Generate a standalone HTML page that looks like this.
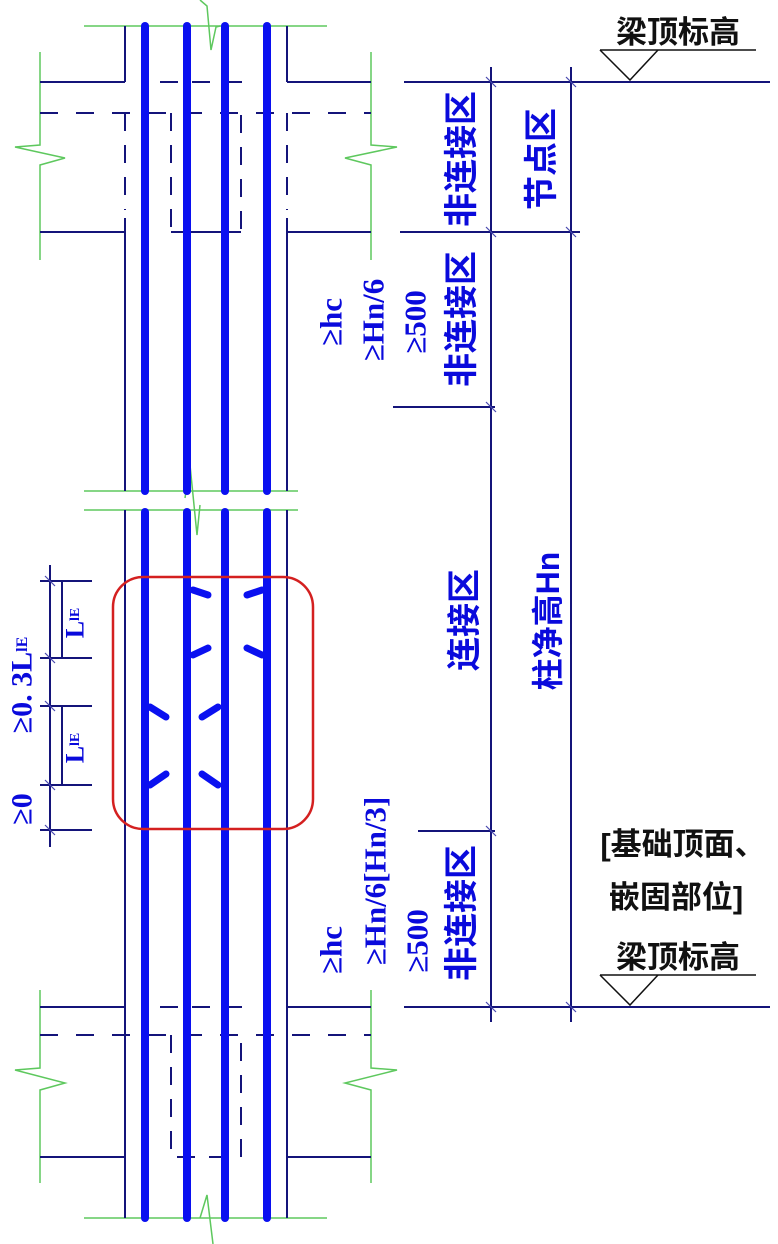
<!DOCTYPE html>
<html><head><meta charset="utf-8"><style>
html,body{margin:0;padding:0;background:#fff;}
svg{display:block;}
.b{font-family:"Liberation Sans","Noto Sans CJK SC",sans-serif;font-weight:bold;fill:#0a0adc;}
.s{font-family:"Liberation Serif","Noto Serif CJK SC",serif;font-weight:bold;fill:#0a0adc;}
.k{font-family:"Liberation Sans","Noto Sans CJK SC",sans-serif;font-weight:bold;fill:#111;}
</style></head><body>
<svg width="778" height="1244" viewBox="0 0 778 1244" xmlns="http://www.w3.org/2000/svg">
<rect width="778" height="1244" fill="#fff"/>
<g stroke="#5ec85e" stroke-width="1.5" fill="none">
<line x1="84" y1="26" x2="327" y2="26"/>
<polyline points="200,0 207,6 211,50 216,27 220,26"/>
<polyline points="40,52 40,145 15,147 65,158 40,165 40,260"/>
<polyline points="371,52 371,145 397,147 345,158 371,165 371,260"/>
<line x1="84" y1="491" x2="298" y2="491"/>
<line x1="84" y1="510" x2="298" y2="510"/>
<polyline points="185,498 190,465 197,535 200,505"/>
<line x1="84" y1="1218" x2="327" y2="1218"/>
<polyline points="200,1218 207,1195 213,1244"/>
<polyline points="40,990 40,1068 15,1070 65,1083 40,1090 40,1183"/>
<polyline points="371,990 371,1068 397,1070 345,1083 371,1090 371,1183"/>
</g>
<g stroke="#14147a" stroke-width="2" fill="none">
<line x1="125" y1="26" x2="125" y2="82"/><line x1="287" y1="26" x2="287" y2="82"/>
<line x1="40" y1="82" x2="125" y2="82"/><line x1="287" y1="82" x2="371" y2="82"/>
<line x1="160" y1="82" x2="252" y2="82" stroke-dasharray="18,14"/>
<line x1="40" y1="113" x2="371" y2="113" stroke-dasharray="18,18"/>
<polyline points="171,113 171,232 241,232 241,113" stroke-dasharray="18,14"/>
<line x1="125" y1="113" x2="125" y2="210" stroke-dasharray="18,14"/>
<line x1="287" y1="113" x2="287" y2="210" stroke-dasharray="18,14"/>
<line x1="125" y1="218" x2="125" y2="491"/><line x1="287" y1="218" x2="287" y2="491"/>
<line x1="40" y1="232" x2="125" y2="232"/><line x1="287" y1="232" x2="371" y2="232"/>
<line x1="171" y1="232" x2="241" y2="232"/>
<line x1="125" y1="510" x2="125" y2="1218"/><line x1="287" y1="510" x2="287" y2="1218"/>
<line x1="40" y1="1007" x2="125" y2="1007"/><line x1="287" y1="1007" x2="371" y2="1007"/>
<line x1="160" y1="1007" x2="252" y2="1007" stroke-dasharray="18,14"/>
<line x1="40" y1="1035" x2="371" y2="1035" stroke-dasharray="18,18"/>
<polyline points="171,1035 171,1157 241,1157 241,1035" stroke-dasharray="18,14"/>
<line x1="40" y1="1157" x2="125" y2="1157"/><line x1="287" y1="1157" x2="371" y2="1157"/>
<line x1="50" y1="565" x2="50" y2="847"/>
<line x1="40" y1="581" x2="92" y2="581"/><line x1="40" y1="658" x2="92" y2="658"/>
<line x1="40" y1="706" x2="92" y2="706"/><line x1="40" y1="785" x2="92" y2="785"/>
<line x1="40" y1="830" x2="92" y2="830"/>
<line x1="62" y1="581" x2="62" y2="658"/><line x1="62" y1="706" x2="62" y2="785"/>
<line x1="404" y1="82" x2="770" y2="82"/>
<line x1="400" y1="232" x2="580" y2="232"/>
<line x1="393" y1="407" x2="495" y2="407"/>
<line x1="418" y1="831" x2="495" y2="831"/>
<line x1="404" y1="1007" x2="770" y2="1007"/>
<line x1="491" y1="67" x2="491" y2="1022"/>
<line x1="571" y1="67" x2="571" y2="1022"/>
</g>
<g stroke="#4a4ab0" stroke-width="1.2">
<line x1="486" y1="77" x2="496" y2="87"/><line x1="566" y1="77" x2="576" y2="87"/>
<line x1="486" y1="227" x2="496" y2="237"/><line x1="566" y1="227" x2="576" y2="237"/>
<line x1="486" y1="402" x2="496" y2="412"/><line x1="486" y1="826" x2="496" y2="836"/>
<line x1="486" y1="1002" x2="496" y2="1012"/><line x1="566" y1="1002" x2="576" y2="1012"/>
<line x1="45" y1="576" x2="55" y2="586"/><line x1="45" y1="653" x2="55" y2="663"/>
<line x1="45" y1="701" x2="55" y2="711"/><line x1="45" y1="780" x2="55" y2="790"/>
<line x1="45" y1="825" x2="55" y2="835"/>
</g>
<g stroke="#111" stroke-width="1.5" fill="none">
<line x1="600" y1="50" x2="756" y2="50"/><polyline points="600,50 630,80 658,50"/>
<line x1="600" y1="975" x2="756" y2="975"/><polyline points="600,975 630,1005 658,975"/>
</g>
<g stroke="#0a10f0" stroke-width="8" stroke-linecap="round" fill="none">
<line x1="145" y1="26" x2="145" y2="491"/><line x1="187" y1="26" x2="187" y2="491"/>
<line x1="225" y1="26" x2="225" y2="491"/><line x1="267" y1="26" x2="267" y2="491"/>
<line x1="145" y1="512" x2="145" y2="1218"/><line x1="187" y1="512" x2="187" y2="1218"/>
<line x1="225" y1="512" x2="225" y2="1218"/><line x1="267" y1="512" x2="267" y2="1218"/>
<g stroke-width="7">
<line x1="193" y1="590" x2="208" y2="595"/><line x1="262" y1="590" x2="247" y2="595"/>
<line x1="193" y1="655" x2="208" y2="648"/><line x1="262" y1="655" x2="247" y2="648"/>
<line x1="150" y1="707" x2="166" y2="717"/><line x1="218" y1="707" x2="202" y2="717"/>
<line x1="150" y1="785" x2="166" y2="774"/><line x1="218" y1="785" x2="202" y2="774"/>
</g>
</g>
<rect x="113" y="577" width="200" height="252" rx="30" ry="30" fill="none" stroke="#d42020" stroke-width="2.5"/>
<text class="k" x="678" y="43" font-size="31" text-anchor="middle">梁顶标高</text>
<text class="k" x="683" y="855" font-size="31" text-anchor="middle">[基础顶面、</text>
<text class="k" x="676" y="908" font-size="31" text-anchor="middle">嵌固部位]</text>
<text class="k" x="678" y="968" font-size="31" text-anchor="middle">梁顶标高</text>
<g class="b">
<text transform="translate(462,159) rotate(-90)" font-size="34" text-anchor="middle" dominant-baseline="central">非连接区</text>
<text transform="translate(542,159) rotate(-90)" font-size="34" text-anchor="middle" dominant-baseline="central">节点区</text>
<text transform="translate(462,319) rotate(-90)" font-size="34" text-anchor="middle" dominant-baseline="central">非连接区</text>
<text transform="translate(465,620) rotate(-90)" font-size="34" text-anchor="middle" dominant-baseline="central">连接区</text>
<text transform="translate(548,621) rotate(-90)" font-size="32" text-anchor="middle" dominant-baseline="central">柱净高Hn</text>
<text transform="translate(462,913) rotate(-90)" font-size="34" text-anchor="middle" dominant-baseline="central">非连接区</text>
</g>
<g class="s">
<text transform="translate(331,322) rotate(-90)" font-size="31" text-anchor="middle" dominant-baseline="central">≥hc</text>
<text transform="translate(373,320) rotate(-90)" font-size="31" text-anchor="middle" dominant-baseline="central">≥Hn/6</text>
<text transform="translate(415,322) rotate(-90)" font-size="31" text-anchor="middle" dominant-baseline="central">≥500</text>
<text transform="translate(331,950) rotate(-90)" font-size="31" text-anchor="middle" dominant-baseline="central">≥hc</text>
<text transform="translate(375,881) rotate(-90)" font-size="31" text-anchor="middle" dominant-baseline="central">≥Hn/6[Hn/3]</text>
<text transform="translate(417,941) rotate(-90)" font-size="31" text-anchor="middle" dominant-baseline="central">≥500</text>
<text transform="translate(75,623) rotate(-90)" font-size="26" text-anchor="middle" dominant-baseline="central">L<tspan font-size="14">lE</tspan></text>
<text transform="translate(75,748) rotate(-90)" font-size="26" text-anchor="middle" dominant-baseline="central">L<tspan font-size="14">lE</tspan></text>
<text transform="translate(22,685) rotate(-90)" font-size="30" text-anchor="middle" dominant-baseline="central">≥0. 3L<tspan font-size="16">lE</tspan></text>
<text transform="translate(22,809) rotate(-90)" font-size="30" text-anchor="middle" dominant-baseline="central">≥0</text>
</g>
</svg>
</body></html>
